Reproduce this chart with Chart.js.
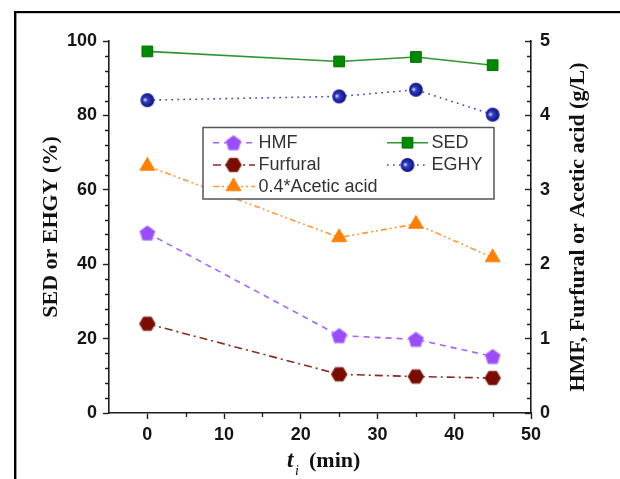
<!DOCTYPE html>
<html>
<head>
<meta charset="utf-8">
<script src="https://cdn.jsdelivr.net/npm/chart.js@4.4.1/dist/chart.umd.min.js"></script>
<style>
  html, body { margin: 0; padding: 0; background: #fff; }
  #wrap { position: relative; width: 620px; height: 479px; }
</style>
</head>
<body>
<div id="wrap"><canvas id="c" width="620" height="479"></canvas></div>
<script>
// Sampling times (min)
const times = [0, 25, 35, 45];
// Left axis series (%)
const sed = [97.2, 94.5, 95.7, 93.5];
const eghy = [84.1, 85.1, 86.9, 80.2];
// Right axis series (g/L)
const hmf = [2.42, 1.04, 0.99, 0.76];
const furfural = [1.20, 0.52, 0.49, 0.47];
const aceticScaled = [3.32, 2.36, 2.54, 2.09];
// Tick values
const xTickValues = [0, 10, 20, 30, 40, 50];
const leftTickValues = [0, 20, 40, 60, 80, 100];
const rightTickValues = [0, 1, 2, 3, 4, 5];
const xMinorTicks = [5, 15, 25, 35, 45];
const leftMinorStep = 4;
const rightMinorStep = 0.2;

const TICK_FONT = { family: "'Liberation Sans', Arial, sans-serif", size: 18, weight: 'bold' };
const TITLE_FAMILY = "'Liberation Serif', 'Times New Roman', serif";
const AXIS_COLOR = '#1e1e1e';

function makeMarker(size, draw) {
  const c = document.createElement('canvas');
  c.width = size; c.height = size;
  draw(c.getContext('2d'), size / 2);
  return c;
}
function polygon(g, cx, cy, r, n, start) {
  g.beginPath();
  for (let k = 0; k < n; k++) {
    const a = start + k * 2 * Math.PI / n;
    const px = cx + r * Math.cos(a), py = cy + r * Math.sin(a);
    if (k) g.lineTo(px, py); else g.moveTo(px, py);
  }
  g.closePath();
}
const pentagonMark = makeMarker(18, (g, c) => {
  polygon(g, c, c + 0.7, 8.0, 5, -Math.PI / 2);
  g.fillStyle = '#9b4cff'; g.fill();
  g.strokeStyle = '#b88cff'; g.lineWidth = 1; g.stroke();
});
const hexagonMark = makeMarker(18, (g, c) => {
  polygon(g, c, c, 7.8, 6, 0);
  g.fillStyle = '#7a0c02'; g.fill();
  g.strokeStyle = '#8f2a1c'; g.lineWidth = 1; g.stroke();
});
const ballMark = makeMarker(16, (g, c) => {
  const grd = g.createRadialGradient(c - 2.6, c - 0.4, 0.4, c, c, 7);
  grd.addColorStop(0, '#dfe4ff');
  grd.addColorStop(0.28, '#3442c4');
  grd.addColorStop(1, '#0b0b82');
  g.beginPath(); g.arc(c, c, 6.9, 0, Math.PI * 2);
  g.fillStyle = grd; g.fill();
});

const pts = (ys) => times.map((t, i) => ({ x: t, y: ys[i] }));

const datasets = [
  { label: 'HMF', data: pts(hmf), yAxisID: 'y2', borderColor: '#a066ff', borderWidth: 1.6,
    borderDash: [6, 5], pointStyle: pentagonMark, pointRadius: 8, legendCol: 0, legendRow: 0 },
  { label: 'Furfural', data: pts(furfural), yAxisID: 'y2', borderColor: '#8c2a1e', borderWidth: 1.6,
    borderDash: [8, 4, 2, 4], pointStyle: hexagonMark, pointRadius: 8, legendCol: 0, legendRow: 1 },
  { label: '0.4*Acetic acid', data: pts(aceticScaled), yAxisID: 'y2', borderColor: '#ff9a3c', borderWidth: 1.6,
    borderDash: [6, 3, 2, 3, 2, 3], pointStyle: 'triangle', pointRadius: 8.6,
    pointBackgroundColor: '#ff8000', pointBorderColor: '#ff8a10', pointBorderWidth: 1, legendCol: 0, legendRow: 2 },
  { label: 'SED', data: pts(sed), yAxisID: 'y', borderColor: '#2f962f', borderWidth: 1.6,
    borderDash: [], pointStyle: 'rect', pointRadius: 7.6,
    pointBackgroundColor: '#008a00', pointBorderColor: '#007000', pointBorderWidth: 1, legendCol: 1, legendRow: 0 },
  { label: 'EGHY', data: pts(eghy), yAxisID: 'y', borderColor: '#3344cc', borderWidth: 1.6,
    borderDash: [1.6, 4.4], pointStyle: ballMark, pointRadius: 7, legendCol: 1, legendRow: 1 }
];
datasets.forEach(d => { d.fill = false; d.tension = 0; d.showLine = true; d.pointHoverRadius = d.pointRadius; });

// Page frame, minor ticks, right/bottom titles and the inset legend
const decorations = {
  id: 'decorations',
  beforeDraw(chart) {
    const ctx = chart.ctx;
    ctx.save();
    ctx.fillStyle = '#fff';
    ctx.fillRect(0, 0, chart.width, chart.height);
    ctx.fillStyle = '#000';
    ctx.fillRect(14, 11, chart.width - 14, 2.2);
    ctx.fillRect(14, 11, 2.4, chart.height - 11);
    ctx.restore();
  },
  afterDraw(chart) {
    const ctx = chart.ctx;
    const { x, y, y2 } = chart.scales;
    ctx.save();
    ctx.strokeStyle = AXIS_COLOR;
    ctx.lineWidth = 1.3;
    ctx.beginPath();
    for (let v = leftMinorStep; v < 100; v += leftMinorStep) {
      if (v % 20 === 0) continue;
      const py = Math.round(y.getPixelForValue(v)) + 0.5;
      ctx.moveTo(y.right, py); ctx.lineTo(y.right - 4, py);
    }
    for (let k = 1; k < 25; k++) {
      if (k % 5 === 0) continue;
      const py = Math.round(y2.getPixelForValue(k * rightMinorStep)) + 0.5;
      ctx.moveTo(y2.left, py); ctx.lineTo(y2.left - 4, py);
    }
    xMinorTicks.forEach(v => {
      const px = Math.round(x.getPixelForValue(v)) + 0.5;
      ctx.moveTo(px, x.top); ctx.lineTo(px, x.top + 4);
    });
    ctx.stroke();

    // right axis title, reading bottom-to-top
    ctx.fillStyle = '#111';
    ctx.font = `bold 22px ${TITLE_FAMILY}`;
    ctx.textAlign = 'center';
    ctx.textBaseline = 'alphabetic';
    ctx.save();
    ctx.translate(584, (y2.top + y2.bottom) / 2);
    ctx.rotate(-Math.PI / 2);
    ctx.fillText('HMF, Furfural or Acetic acid (g/L)', 0, 0);
    ctx.restore();

    // bottom axis title: t with subscript i, then (min)
    ctx.textAlign = 'left';
    ctx.font = `italic bold 23px ${TITLE_FAMILY}`;
    ctx.fillText('t', 287, 467);
    ctx.font = `italic 14px ${TITLE_FAMILY}`;
    ctx.fillText('i', 295, 475);
    ctx.font = `bold 22px ${TITLE_FAMILY}`;
    ctx.fillText('(min)', 309, 467);

    // inset legend
    const box = { l: 203, t: 127.5, r: 494, b: 199 };
    ctx.fillStyle = '#fff';
    ctx.fillRect(box.l, box.t, box.r - box.l, box.b - box.t);
    ctx.strokeStyle = '#555';
    ctx.lineWidth = 1.5;
    ctx.strokeRect(box.l, box.t, box.r - box.l, box.b - box.t);
    const cols = [{ x0: 213, x1: 255, mx: 233.5, tx: 258.5 }, { x0: 387, x1: 428, mx: 407.5, tx: 431.5 }];
    const rows = [142.7, 165, 186.5];
    chart.data.datasets.forEach((d, i) => {
      const col = cols[d.legendCol], ry = rows[d.legendRow];
      const meta = chart.getDatasetMeta(i);
      const el = meta.data[0];
      ctx.save();
      ctx.strokeStyle = d.borderColor;
      ctx.lineWidth = d.borderWidth;
      ctx.setLineDash(d.borderDash);
      ctx.beginPath(); ctx.moveTo(col.x0, ry); ctx.lineTo(col.x1, ry); ctx.stroke();
      ctx.setLineDash([]);
      ctx.fillStyle = el.options.backgroundColor;
      ctx.strokeStyle = el.options.borderColor;
      ctx.lineWidth = el.options.borderWidth;
      Chart.helpers.drawPoint(ctx, {
        pointStyle: d.pointStyle, radius: d.pointRadius, rotation: 0, borderWidth: el.options.borderWidth
      }, col.mx, ry);
      ctx.restore();
      ctx.fillStyle = '#333';
      ctx.font = "18px 'Liberation Sans', Arial, sans-serif";
      ctx.textAlign = 'left';
      ctx.textBaseline = 'middle';
      ctx.fillText(d.label, col.tx, ry + 0.5);
    });
    ctx.restore();
  }
};

new Chart(document.getElementById('c'), {
  type: 'line',
  data: { datasets },
  plugins: [decorations],
  options: {
    responsive: false,
    animation: false,
    devicePixelRatio: 1,
    layout: { padding: { top: 41, left: 0, right: 0, bottom: 0 } },
    plugins: { legend: { display: false }, tooltip: { enabled: false } },
    scales: {
      x: {
        type: 'linear', position: 'bottom', min: -5, max: 50,
        afterBuildTicks: s => { s.ticks = xTickValues.map(v => ({ value: v })); },
        afterFit: s => { s.height = 66; },
        grid: { drawOnChartArea: false, drawTicks: true, tickLength: 6, tickWidth: 1.4, tickColor: AXIS_COLOR },
        border: { display: true, color: AXIS_COLOR, width: 1.6 },
        ticks: { font: TICK_FONT, color: '#151515', padding: 5, maxRotation: 0, autoSkip: false }
      },
      y: {
        type: 'linear', position: 'left', min: 0, max: 100,
        afterBuildTicks: s => { s.ticks = leftTickValues.map(v => ({ value: v })); },
        afterFit: s => { s.width = 109; },
        grid: { drawOnChartArea: false, drawTicks: true, tickLength: 6, tickWidth: 1.4, tickColor: AXIS_COLOR },
        border: { display: true, color: AXIS_COLOR, width: 1.6 },
        ticks: { font: TICK_FONT, color: '#151515', padding: 6, autoSkip: false },
        title: {
          display: true, text: 'SED or EHGY (%)', color: '#111',
          font: { family: TITLE_FAMILY, size: 22, weight: 'bold' },
          padding: { top: 38, bottom: 0 }
        }
      },
      y2: {
        type: 'linear', position: 'right', min: 0, max: 5,
        afterBuildTicks: s => { s.ticks = rightTickValues.map(v => ({ value: v })); },
        afterFit: s => { s.width = 89; },
        grid: { drawOnChartArea: false, drawTicks: true, tickLength: -6, tickWidth: 1.4, tickColor: AXIS_COLOR },
        border: { display: true, color: AXIS_COLOR, width: 1.6 },
        ticks: { font: TICK_FONT, color: '#151515', padding: 15, autoSkip: false }
      }
    }
  }
});
</script>
</body>
</html>
